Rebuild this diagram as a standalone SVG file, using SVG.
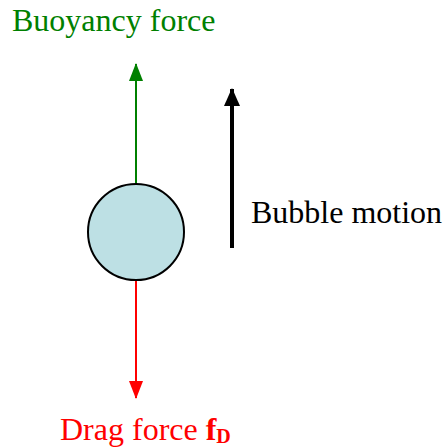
<svg xmlns="http://www.w3.org/2000/svg" width="443" height="447" viewBox="0 0 443 447">
<style>
text{font-family:"Liberation Serif","Times New Roman",serif;font-size:32px}
</style>
<defs>
<marker id="ag" markerWidth="18" markerHeight="14" refX="17" refY="7" orient="auto" markerUnits="userSpaceOnUse" viewBox="0 0 18 14"><path d="M0,0 L18,7 L0,14 Z" fill="#008000"/></marker>
<marker id="ar" markerWidth="18" markerHeight="14" refX="17" refY="7" orient="auto" markerUnits="userSpaceOnUse" viewBox="0 0 18 14"><path d="M0,0 L18,7 L0,14 Z" fill="#ff0000"/></marker>
<marker id="ak" markerWidth="18" markerHeight="16" refX="17" refY="8" orient="auto" markerUnits="userSpaceOnUse" viewBox="0 0 18 16"><path d="M0,0 L18,8 L0,16 Z" fill="#000"/></marker>
</defs>
<g id="connectors">
<line x1="136" y1="184" x2="136" y2="64" stroke="#008000" stroke-width="2" marker-end="url(#ag)"/>
<line x1="136" y1="280" x2="136" y2="398" stroke="#ff0000" stroke-width="2" marker-end="url(#ar)"/>
<line x1="232" y1="248" x2="232" y2="89" stroke="#000" stroke-width="4" marker-end="url(#ak)"/>
</g>
<g id="bubble">
<circle cx="136" cy="232" r="48" fill="#bde0e4" stroke="#000" stroke-width="2"/>
</g>
<g id="buoyancy-label"><text x="12" y="31" fill="#008000">Buoyancy force</text></g>
<g id="motion-label"><text x="251" y="223" fill="#000">Bubble motion</text></g>
<g id="drag-label"><text x="60" y="440" fill="#ff0000">Drag force <tspan font-weight="bold">f</tspan><tspan font-weight="bold" font-size="20" dy="3">D</tspan></text></g>
</svg>
